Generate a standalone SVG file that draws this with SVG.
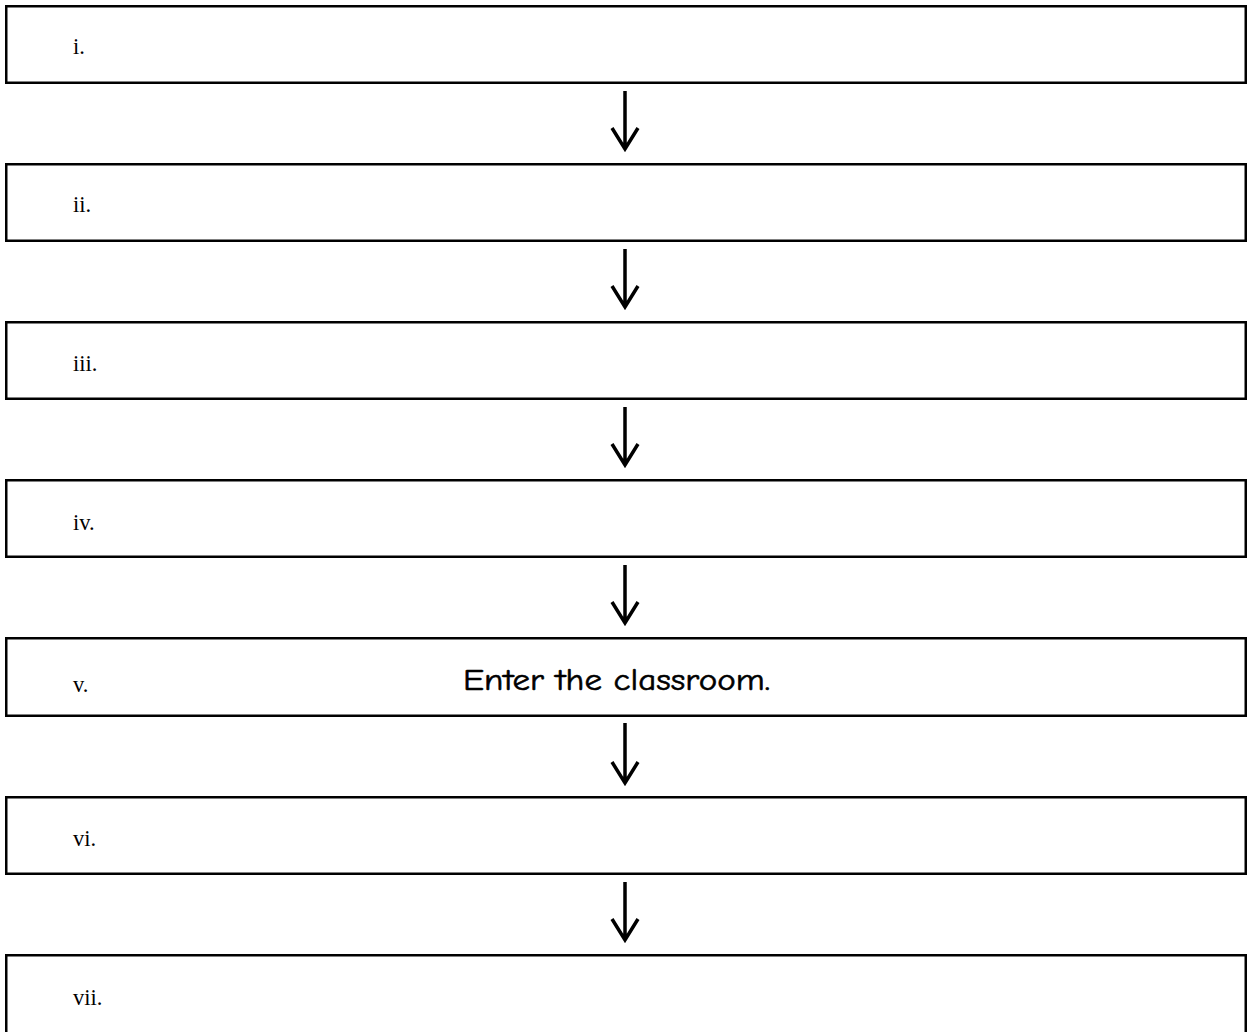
<svg xmlns="http://www.w3.org/2000/svg" width="1248" height="1032" viewBox="0 0 1248 1032">
<style>
.box{fill:#fff;stroke:#000;stroke-width:2.5}
.num{font-family:"Liberation Serif","Times New Roman",serif;font-size:22.5px;fill:#000}
.txt{font-family:"Comic Sans MS","Comic Neue","DejaVu Sans",sans-serif;font-size:31px;fill:#000;stroke:#000;stroke-width:0.6}
.arr{fill:none;stroke:#000;stroke-width:3.5;stroke-linecap:butt;stroke-linejoin:miter}
</style>
<rect width="1248" height="1032" fill="#fff"/>
<g id="node1"><rect class="box" x="6.25" y="6.25" width="1239.5" height="76.5"/><text class="num" x="73" y="54">i.</text></g>
<g id="node2"><rect class="box" x="6.25" y="164.25" width="1239.5" height="76.5"/><text class="num" x="73" y="212">ii.</text></g>
<g id="node3"><rect class="box" x="6.25" y="322.25" width="1239.5" height="76.5"/><text class="num" x="73" y="371">iii.</text></g>
<g id="node4"><rect class="box" x="6.25" y="480.25" width="1239.5" height="76.5"/><text class="num" x="73" y="530">iv.</text></g>
<g id="node5"><rect class="box" x="6.25" y="638.25" width="1239.5" height="77.5"/><text class="num" x="73" y="692">v.</text><text class="txt" x="463" y="690" textLength="307" lengthAdjust="spacingAndGlyphs">Enter the classroom.</text></g>
<g id="node6"><rect class="box" x="6.25" y="797.25" width="1239.5" height="76.5"/><text class="num" x="73" y="846">vi.</text></g>
<g id="node7"><rect class="box" x="6.25" y="955.25" width="1239.5" height="90"/><text class="num" x="73" y="1005">vii.</text></g>
<g id="connectors">
<path class="arr" d="M625 91V149M612 128L625 149L638 128"/>
<path class="arr" d="M625 249V307M612 286L625 307L638 286"/>
<path class="arr" d="M625 407V465M612 444L625 465L638 444"/>
<path class="arr" d="M625 565V623M612 602L625 623L638 602"/>
<path class="arr" d="M625 723V783M612 762L625 783L638 762"/>
<path class="arr" d="M625 882V940M612 919L625 940L638 919"/>
</g>
</svg>
